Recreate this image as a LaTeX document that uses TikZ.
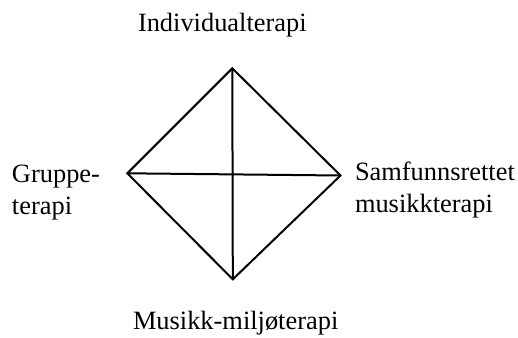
\documentclass[tikz,border=0pt]{standalone}
\usepackage{fontspec}
\setmainfont{Liberation Serif}
\begin{document}
\begin{tikzpicture}[x=1pt,y=-1pt,
  lbl/.style={inner sep=0pt,outer sep=0pt,anchor=base west,align=left,
    font=\fontsize{26.4}{32.5}\selectfont},
  edge/.style={draw=black,line width=2pt}]
\useasboundingbox (0,0) rectangle (518,337);
\coordinate (T) at (232.3,68.3);
\coordinate (L) at (127.3,173.3);
\coordinate (R) at (340.5,175.5);
\coordinate (B) at (232.8,279.3);
\node[lbl] (top) at (138,31) {Individualterapi};
\node[lbl] (left) at (12,214.5) {Gruppe-\\terapi};
\node[lbl] (right) at (355,212.5) {Samfunnsrettet\\musikkterapi};
\node[lbl] (bottom) at (133,329) {Musikk-miljøterapi};
\draw[edge] (T) -- (R) -- (B) -- (L) -- cycle;
\draw[edge] (T) -- (B);
\draw[edge] (L) -- (R);
\end{tikzpicture}
\end{document}
